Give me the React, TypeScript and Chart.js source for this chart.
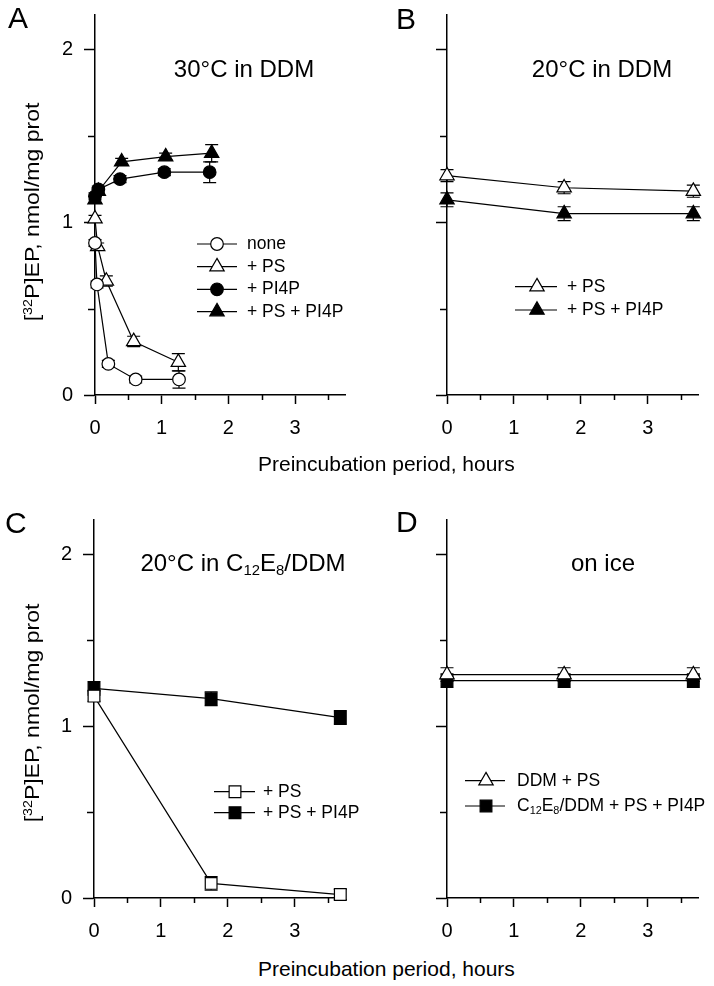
import React, { useEffect, useRef } from 'react';
import { Chart, registerables } from 'chart.js';

Chart.register(...registerables);

const FONT = '"Liberation Sans", Arial, Helvetica, sans-serif';

// ---------- axis ticks ----------
const xMajorTicks = [0, 1, 2, 3];
const xMinorTicks = [0.5, 1.5, 2.5, 3.5];
const yMajorTicks = [0, 1, 2];
const yMinorTicks = [0.5, 1.5];
const X_MIN = 0;
const X_MAX = 3.75;
const Y_MIN = 0;
const Y_MAX = 2.2;

// ---------- Panel A: 30°C in DDM ----------
const hoursA_none = [0, 0.03, 0.2, 0.61, 1.26];
const epA_none = [0.88, 0.64, 0.18, 0.09, 0.09];
const errA_none = [0.02, 0.02, 0.02, 0.02, 0.05];

const hoursA_ps = [0, 0.04, 0.17, 0.58, 1.25];
const epA_ps = [1.02, 0.86, 0.66, 0.31, 0.19];
const errA_ps = [0.02, 0.02, 0.03, 0.03, 0.05];

const hoursA_pi4p = [0, 0.05, 0.375, 1.04, 1.72];
const epA_pi4p = [1.15, 1.19, 1.25, 1.29, 1.29];
const errA_pi4p = [0.02, 0.02, 0.02, 0.02, 0.06];

const hoursA_psPi4p = [0, 0.05, 0.4, 1.06, 1.75];
const epA_psPi4p = [1.13, 1.18, 1.35, 1.38, 1.4];
const errA_psPi4p = [0.02, 0.02, 0.02, 0.02, 0.05];

const legendA = ['none', '+ PS', '+ PI4P', '+ PS + PI4P'];

// ---------- Panel B: 20°C in DDM ----------
const hoursB = [0, 1.75, 3.68];
const epB_ps = [1.27, 1.2, 1.18];
const errB_ps = [0.035, 0.035, 0.035];
const epB_psPi4p = [1.13, 1.05, 1.05];
const errB_psPi4p = [0.04, 0.04, 0.04];
const legendB = ['+ PS', '+ PS + PI4P'];

// ---------- Panel C: 20°C in C12E8/DDM ----------
const hoursC = [0, 1.75, 3.68];
const epC_ps = [1.175, 0.085, 0.02];
const errC_ps = [0.03, 0.04, 0.03];
const epC_psPi4p = [1.22, 1.16, 1.05];
const errC_psPi4p = [0.04, 0.04, 0.04];
const legendC = ['+ PS', '+ PS + PI4P'];

// ---------- Panel D: on ice ----------
const hoursD = [0, 1.75, 3.68];
const epD_ddmPs = [1.3, 1.3, 1.3];
const errD_ddmPs = [0.04, 0.04, 0.04];
const epD_c12PsPi4p = [1.265, 1.265, 1.265];
const errD_c12PsPi4p = [0.04, 0.04, 0.04];
const legendD = ['DDM + PS', 'C_{12}E_{8}/DDM + PS + PI4P'];

// ---------- texts ----------
const xAxisTitle = 'Preincubation period, hours';

type Series = {
  label: string;
  x: number[];
  y: number[];
  err: number[];
  style: 'circle' | 'triangle' | 'rect';
  filled: boolean;
};

const radiusFor = (style: string) => (style === 'circle' ? 6.3 : 8.3);

// draw a marker the same way Chart.js does
function drawMarker(ctx: CanvasRenderingContext2D, style: string, filled: boolean, x: number, y: number) {
  const r = radiusFor(style);
  ctx.save();
  ctx.lineWidth = 1.2;
  ctx.strokeStyle = '#000';
  ctx.fillStyle = filled ? '#000' : '#fff';
  ctx.beginPath();
  if (style === 'circle') {
    ctx.arc(x, y, r, 0, Math.PI * 2);
  } else if (style === 'triangle') {
    let rad = 0;
    ctx.moveTo(x + Math.sin(rad) * r, y - Math.cos(rad) * r);
    rad += (2 * Math.PI) / 3;
    ctx.lineTo(x + Math.sin(rad) * r, y - Math.cos(rad) * r);
    rad += (2 * Math.PI) / 3;
    ctx.lineTo(x + Math.sin(rad) * r, y - Math.cos(rad) * r);
    ctx.closePath();
  } else {
    const s = Math.SQRT1_2 * r;
    ctx.rect(x - s, y - s, 2 * s, 2 * s);
  }
  ctx.fill();
  ctx.stroke();
  ctx.restore();
}

// text with _{sub} segments
function drawRichText(ctx: CanvasRenderingContext2D, text: string, x: number, y: number, size: number) {
  const parts: { t: string; sub: boolean }[] = [];
  const re = /_\{([^}]*)\}/g;
  let last = 0;
  let m: RegExpExecArray | null;
  while ((m = re.exec(text)) !== null) {
    if (m.index > last) parts.push({ t: text.slice(last, m.index), sub: false });
    parts.push({ t: m[1], sub: true });
    last = m.index + m[0].length;
  }
  if (last < text.length) parts.push({ t: text.slice(last), sub: false });
  let cx = x;
  ctx.textAlign = 'left';
  ctx.textBaseline = 'middle';
  ctx.fillStyle = '#000';
  for (const p of parts) {
    const fs = p.sub ? size * 0.62 : size;
    ctx.font = `${fs}px ${FONT}`;
    ctx.fillText(p.t, cx, p.sub ? y + size * 0.3 : y);
    cx += ctx.measureText(p.t).width;
  }
}

const errorBarPlugin = {
  id: 'errorBars',
  beforeDatasetsDraw(chart: any) {
    const { ctx } = chart;
    const xs = chart.scales.x;
    const ys = chart.scales.y;
    ctx.save();
    ctx.strokeStyle = '#000';
    ctx.lineWidth = 1.2;
    chart.data.datasets.forEach((ds: any) => {
      ds.data.forEach((p: any, i: number) => {
        const e = ds.errors[i];
        const px = xs.getPixelForValue(p.x);
        const yTop = ys.getPixelForValue(p.y + e);
        const yBot = ys.getPixelForValue(p.y - e);
        const cap = 6.5;
        ctx.beginPath();
        ctx.moveTo(px, yTop);
        ctx.lineTo(px, yBot);
        ctx.moveTo(px - cap, yTop);
        ctx.lineTo(px + cap, yTop);
        ctx.moveTo(px - cap, yBot);
        ctx.lineTo(px + cap, yBot);
        ctx.stroke();
      });
    });
    ctx.restore();
  },
};

const minorTickPlugin = {
  id: 'minorTicks',
  afterDraw(chart: any) {
    const { ctx, chartArea } = chart;
    const xs = chart.scales.x;
    const ys = chart.scales.y;
    ctx.save();
    ctx.strokeStyle = '#000';
    ctx.lineWidth = 1.5;
    xMinorTicks.forEach((v) => {
      const px = Math.round(xs.getPixelForValue(v)) + 0.5;
      ctx.beginPath();
      ctx.moveTo(px, chartArea.bottom);
      ctx.lineTo(px, chartArea.bottom + 5);
      ctx.stroke();
    });
    yMinorTicks.forEach((v) => {
      const py = Math.round(ys.getPixelForValue(v)) + 0.5;
      ctx.beginPath();
      ctx.moveTo(chartArea.left, py);
      ctx.lineTo(chartArea.left - 7, py);
      ctx.stroke();
    });
    ctx.restore();
  },
};

const panelLegendPlugin = {
  id: 'panelLegend',
  afterDatasetsDraw(chart: any, _args: any, opts: any) {
    if (!opts || !opts.rows) return;
    const { ctx } = chart;
    const datasets = chart.data.datasets;
    ctx.save();
    opts.rows.forEach((ry: number, i: number) => {
      const ds = datasets[i];
      ctx.strokeStyle = '#000';
      ctx.lineWidth = 1.2;
      ctx.beginPath();
      ctx.moveTo(opts.lineX1, ry);
      ctx.lineTo(opts.lineX2, ry);
      ctx.stroke();
      drawMarker(ctx, ds.pointStyle, ds.filled, opts.markerX, ry);
      drawRichText(ctx, opts.labels[i], opts.textX, ry, opts.fontSize);
    });
    ctx.restore();
  },
};

const X_H = 45;

type LegendOpts = {
  lineX1: number;
  lineX2: number;
  markerX: number;
  textX: number;
  rows: number[];
  labels: string[];
  fontSize: number;
};

function Panel(props: {
  left: number;
  top: number;
  width: number;
  height: number;
  area: { left: number; top: number; right: number; bottom: number };
  series: Series[];
  showYLabels: boolean;
  legend: LegendOpts;
}) {
  const ref = useRef<HTMLCanvasElement>(null);
  const { left, top, width, height, area, series, showYLabels, legend } = props;

  useEffect(() => {
    if (!ref.current) return;
    const chart = new Chart(ref.current, {
      type: 'scatter',
      data: {
        datasets: series.map((s) => ({
          label: s.label,
          data: s.x.map((x, i) => ({ x, y: s.y[i] })),
          errors: s.err,
          filled: s.filled,
          showLine: true,
          tension: 0,
          borderColor: '#000',
          borderWidth: 1.2,
          backgroundColor: s.filled ? '#000' : '#fff',
          pointStyle: s.style,
          pointRadius: radiusFor(s.style),
          pointHoverRadius: radiusFor(s.style),
          pointBorderColor: '#000',
          pointBorderWidth: 1.2,
          pointBackgroundColor: s.filled ? '#000' : '#fff',
          clip: false,
        })) as any,
      },
      options: {
        animation: false,
        responsive: false,
        devicePixelRatio: 1,
        events: [],
        layout: {
          padding: {
            left: 0,
            top: area.top,
            right: width - area.right,
            bottom: height - area.bottom - X_H,
          },
        },
        plugins: {
          legend: { display: false },
          tooltip: { enabled: false },
          title: { display: false },
          panelLegend: legend,
        } as any,
        scales: {
          x: {
            type: 'linear',
            min: X_MIN,
            max: X_MAX,
            afterBuildTicks: (sc: any) => {
              sc.ticks = xMajorTicks.map((v) => ({ value: v }));
            },
            afterFit: (sc: any) => {
              sc.height = X_H;
              sc.paddingLeft = 0;
              sc.paddingRight = 0;
              sc.paddingTop = 0;
              sc.paddingBottom = 0;
            },
            grid: {
              drawOnChartArea: false,
              drawTicks: true,
              tickLength: 9,
              tickColor: '#000',
              tickWidth: 1.5,
            },
            border: { display: true, color: '#000', width: 1.5 },
            ticks: {
              color: '#000',
              font: { family: FONT, size: 20 },
              padding: 12,
              maxRotation: 0,
              autoSkip: false,
            },
          },
          y: {
            type: 'linear',
            min: Y_MIN,
            max: Y_MAX,
            afterBuildTicks: (sc: any) => {
              sc.ticks = yMajorTicks.map((v) => ({ value: v }));
            },
            afterFit: (sc: any) => {
              sc.width = area.left;
              sc.paddingTop = 0;
              sc.paddingBottom = 0;
              sc.paddingLeft = 0;
              sc.paddingRight = 0;
            },
            grid: {
              drawOnChartArea: false,
              drawTicks: true,
              tickLength: 11,
              tickColor: '#000',
              tickWidth: 1.5,
            },
            border: { display: true, color: '#000', width: 1.5 },
            ticks: {
              display: showYLabels,
              color: '#000',
              font: { family: FONT, size: 20 },
              padding: 11,
            },
          },
        },
      } as any,
      plugins: [errorBarPlugin, minorTickPlugin, panelLegendPlugin],
    });
    return () => chart.destroy();
  }, []);

  return (
    <canvas
      ref={ref}
      width={width}
      height={height}
      style={{ position: 'absolute', left, top, width, height }}
    />
  );
}

const seriesA: Series[] = [
  { label: legendA[0], x: hoursA_none, y: epA_none, err: errA_none, style: 'circle', filled: false },
  { label: legendA[1], x: hoursA_ps, y: epA_ps, err: errA_ps, style: 'triangle', filled: false },
  { label: legendA[2], x: hoursA_pi4p, y: epA_pi4p, err: errA_pi4p, style: 'circle', filled: true },
  { label: legendA[3], x: hoursA_psPi4p, y: epA_psPi4p, err: errA_psPi4p, style: 'triangle', filled: true },
];
const seriesB: Series[] = [
  { label: legendB[0], x: hoursB, y: epB_ps, err: errB_ps, style: 'triangle', filled: false },
  { label: legendB[1], x: hoursB, y: epB_psPi4p, err: errB_psPi4p, style: 'triangle', filled: true },
];
const seriesC: Series[] = [
  { label: legendC[0], x: hoursC, y: epC_ps, err: errC_ps, style: 'rect', filled: false },
  { label: legendC[1], x: hoursC, y: epC_psPi4p, err: errC_psPi4p, style: 'rect', filled: true },
];
const seriesD: Series[] = [
  { label: legendD[0], x: hoursD, y: epD_ddmPs, err: errD_ddmPs, style: 'triangle', filled: false },
  { label: legendD[1], x: hoursD, y: epD_c12PsPi4p, err: errD_c12PsPi4p, style: 'rect', filled: true },
];

function Txt(props: { x: number; cy: number; size: number; children: any; center?: boolean; w?: number }) {
  const L = Math.round(props.size * 1.4);
  const w = props.w ?? 400;
  return (
    <div
      style={{
        position: 'absolute',
        left: props.center ? props.x - w / 2 : props.x,
        top: props.cy - L / 2 + 0.0115 * props.size,
        width: props.center ? w : undefined,
        textAlign: props.center ? 'center' : 'left',
        fontSize: props.size,
        lineHeight: `${L}px`,
        whiteSpace: 'nowrap',
        fontFamily: FONT,
        color: '#000',
      }}
    >
      {props.children}
    </div>
  );
}

function YTitle(props: { cx: number; cy: number }) {
  const size = 23;
  const L = 30;
  const W = 320;
  return (
    <div
      style={{
        position: 'absolute',
        left: props.cx - W / 2,
        top: props.cy - L / 2,
        width: W,
        height: L,
        lineHeight: `${L}px`,
        textAlign: 'center',
        fontSize: size,
        fontFamily: FONT,
        whiteSpace: 'nowrap',
        transform: 'rotate(-90deg) scaleY(0.9)',
        transformOrigin: 'center center',
        color: '#000',
      }}
    >
      [<sup style={{ fontSize: '0.62em', verticalAlign: '0.55em', lineHeight: 0 }}>32</sup>P]EP, nmol/mg prot
    </div>
  );
}

const subStyle = { fontSize: '0.62em', verticalAlign: '-0.3em', lineHeight: 0 };

export default function App() {
  return (
    <div
      style={{
        position: 'absolute',
        left: 0,
        top: 0,
        width: 714,
        height: 986,
        background: '#fff',
        overflow: 'hidden',
      }}
    >
      <Panel
        left={0}
        top={0}
        width={357}
        height={450}
        area={{ left: 95, top: 15, right: 345, bottom: 395 }}
        series={seriesA}
        showYLabels={true}
        legend={{
          lineX1: 197,
          lineX2: 237,
          markerX: 217,
          textX: 247,
          rows: [244, 266.7, 289.3, 311.7],
          labels: legendA,
          fontSize: 17.5,
        }}
      />
      <Panel
        left={357}
        top={0}
        width={357}
        height={450}
        area={{ left: 90, top: 15, right: 341, bottom: 395 }}
        series={seriesB}
        showYLabels={false}
        legend={{
          lineX1: 158,
          lineX2: 200,
          markerX: 180,
          textX: 210,
          rows: [286.7, 310],
          labels: legendB,
          fontSize: 17.5,
        }}
      />
      <Panel
        left={0}
        top={470}
        width={368}
        height={480}
        area={{ left: 94, top: 50, right: 345, bottom: 428 }}
        series={seriesC}
        showYLabels={true}
        legend={{
          lineX1: 214,
          lineX2: 255,
          markerX: 235,
          textX: 263,
          rows: [321.7, 342.7],
          labels: legendC,
          fontSize: 17.5,
        }}
      />
      <Panel
        left={357}
        top={470}
        width={357}
        height={480}
        area={{ left: 90, top: 50, right: 341, bottom: 428 }}
        series={seriesD}
        showYLabels={false}
        legend={{
          lineX1: 108,
          lineX2: 148,
          markerX: 129,
          textX: 160,
          rows: [310.7, 336],
          labels: legendD,
          fontSize: 17.5,
        }}
      />

      {/* panel letters */}
      <Txt x={8} cy={17.5} size={30}>A</Txt>
      <Txt x={396} cy={18.3} size={30}>B</Txt>
      <Txt x={5} cy={523} size={30}>C</Txt>
      <Txt x={396} cy={522} size={30}>D</Txt>

      {/* panel titles */}
      <Txt x={244} cy={68.7} size={24} center>30°C in DDM</Txt>
      <Txt x={602} cy={68.3} size={24} center>20°C in DDM</Txt>
      <Txt x={243} cy={563} size={24} center>
        20°C in C<sub style={subStyle}>12</sub>E<sub style={subStyle}>8</sub>/DDM
      </Txt>
      <Txt x={603} cy={563} size={24} center>on ice</Txt>

      {/* axis titles */}
      <YTitle cx={32} cy={212} />
      <YTitle cx={32} cy={713} />
      <Txt x={258} cy={463} size={21}>{xAxisTitle}</Txt>
      <Txt x={258} cy={968} size={21}>{xAxisTitle}</Txt>
    </div>
  );
}
